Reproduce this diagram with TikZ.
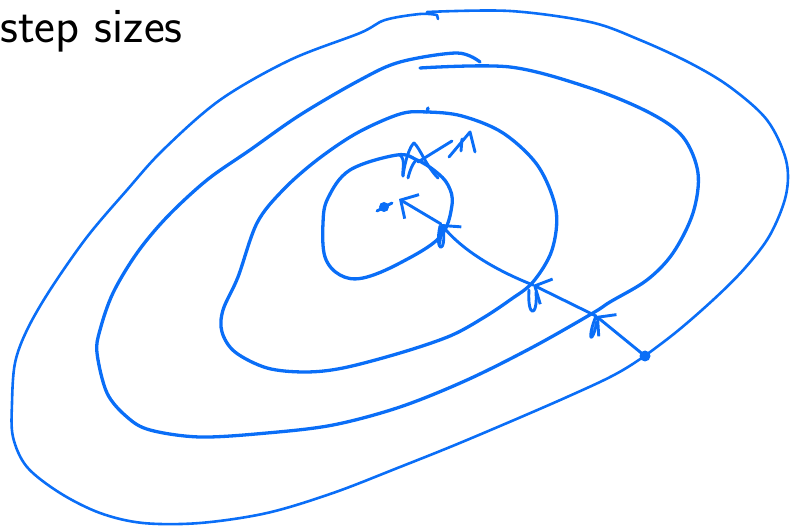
\documentclass[tikz,border=0pt]{standalone}
\usepackage{fontspec}
\usetikzlibrary{arrows.meta}
\definecolor{penblue}{HTML}{0A6EF7}

\begin{document}
\begin{tikzpicture}[
    x=1pt, y=-1pt,
    pen/.style={draw=penblue, line width=3.3pt, line cap=round, line join=round},
    contour/.style={pen},
    outercontour/.style={pen, line width=2.6pt},
    scribble/.style={pen, line width=2.9pt},
    steparrow/.style={
        pen, line width=2.9pt,
        -{Straight Barb[length=13pt, width=28pt, line width=2.9pt]}
    }
]
\useasboundingbox (0,0) rectangle (790,526);

% ==========================================
% TITLE
% ==========================================

\node[anchor=base west, inner sep=0pt,
      font=\sffamily\fontsize{49.5}{52}\selectfont] (title) at (0,43) {step sizes};

% ==========================================
% LEVEL SETS
% ==========================================

% outermost
\draw[outercontour] plot[smooth, tension=0.55] coordinates {
    (427,12) (510,11) (590,22) (640,40) (690,63) (730,87) (767,120)
    (786,160) (786,195) (770,235) (745,268) (713,300) (670,337) (623,370)
    (567,397) (467,440) (400,467) (333,493) (267,513) (200,523) (143,523)
    (100,513) (60,493) (27,467) (13,437) (12,403) (15,363) (27,330)
    (50,290) (87,237) (127,190) (163,150) (220,100) (290,60) (360,33)
    (385,20) (420,14) (437,15)};
\draw[outercontour] (437,15) -- (438,19);

% third
\draw[contour] plot[smooth, tension=0.55] coordinates {
    (420,68) (510,67) (590,88) (650,113) (683,137) (698,173) (693,213)
    (673,253) (647,280) (610,302) (593,313) (533,347) (467,380) (400,407)
    (333,425) (267,433) (200,437) (150,430) (127,417) (107,393) (97,353)
    (100,330) (113,293) (137,253) (167,217) (207,180) (250,150) (300,115)
    (360,80) (400,62) (457,53) (480,62)};

% second
\draw[contour] plot[smooth cycle, tension=0.55] coordinates {
    (427,112) (462,116) (503,133) (538,166) (556,210) (552,250) (533,282)
    (510,300) (483,318) (450,336) (400,353) (343,368) (305,372) (267,368)
    (235,352) (222,332) (223,310) (238,277) (257,223) (283,190) (317,160)
    (357,133) (400,114)};
\draw[contour] (427,112) -- (428,108);

% innermost
\draw[contour] plot[smooth cycle, tension=0.6] coordinates {
    (397,155) (417,160) (435,171) (448,185) (452,205) (440,237) (400,263)
    (363,278) (340,275) (325,257) (323,223) (328,198) (350,170)};

% ==========================================
% STEPS
% ==========================================

\coordinate (p0) at (645,356);
\coordinate (p1) at (596,316);
\coordinate (p2) at (533,285);
\coordinate (p3) at (441,224);
\coordinate (p4) at (399,199);

\fill[penblue] (p0) circle (5.5pt);

\draw[steparrow] (p0) -- (p1);
\draw[steparrow] (p1) -- (p2);
\draw[steparrow] (p2) .. controls (495,270) and (462,250) .. (p3);
\draw[steparrow] (p3) -- (p4);

% pen loops under the heads
\draw[scribble] (p1) .. controls (587,338) and (591,348) .. (597,322);
\draw[scribble] (529,290) .. controls (527,318) and (538,318) .. (536,292);
\draw[scribble] (440,226) .. controls (434,254) and (447,254) .. (443,228);

% end point
\fill[penblue] (384,207) circle (5pt);
\draw[scribble] (377,211) -- (392,203);

% ==========================================
% OVERSHOOT SCRIBBLE
% ==========================================

\draw[scribble] (403,176) .. controls (405,160) and (410,146) .. (414,143)
    .. controls (420,148) and (426,166) .. (438,178);
\draw[scribble] (400,155) .. controls (406,160) and (402,170) .. (403,176);
\draw[scribble] (408,178) .. controls (410,170) and (412,165) .. (416,160);
\draw[scribble] (418,162) -- (452,141);
\draw[scribble] (449,157) -- (470,132) -- (475,152);
\draw[scribble] (462,139) -- (461,151);

\end{tikzpicture}
\end{document}
